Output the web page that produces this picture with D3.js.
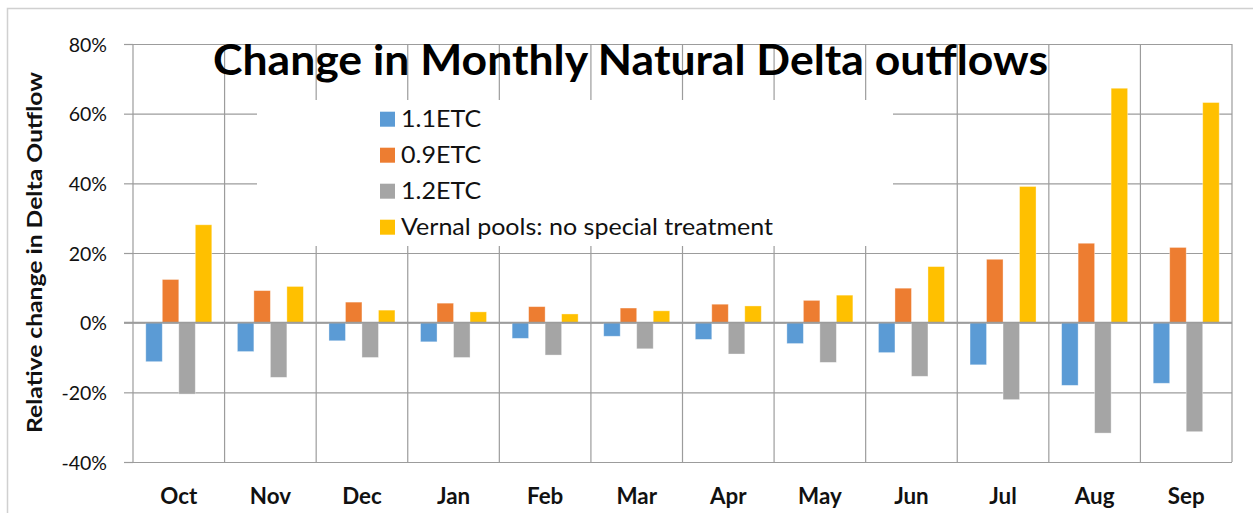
<!DOCTYPE html>
<html>
<head>
<meta charset="utf-8">
<script src="https://cdn.jsdelivr.net/npm/d3@7"></script>
<style>
  html, body { margin: 0; padding: 0; background: #fff; }
  svg { display: block; font-family: Lato, "Open Sans", sans-serif; }
</style>
</head>
<body>
<div id="chart"></div>
<script>
const MONTHS = ['Oct', 'Nov', 'Dec', 'Jan', 'Feb', 'Mar', 'Apr', 'May', 'Jun', 'Jul', 'Aug', 'Sep'];

const SERIES_NAMES = ['1.1ETC', '0.9ETC', '1.2ETC', 'Vernal pools: no special treatment'];

// relative change, percent
const ETC_11 = [-11.2, -8.3, -5.2, -5.5, -4.5, -3.9, -4.8, -6.0, -8.6, -12.1, -18.0, -17.4];
const ETC_09 = [12.4, 9.2, 5.9, 5.6, 4.6, 4.2, 5.3, 6.4, 9.9, 18.2, 22.8, 21.6];
const ETC_12 = [-20.5, -15.7, -10.0, -10.0, -9.3, -7.5, -9.0, -11.4, -15.4, -22.1, -31.7, -31.3];
const VERNAL = [28.1, 10.4, 3.6, 3.1, 2.5, 3.4, 4.8, 7.9, 16.1, 39.1, 67.3, 63.2];

const Y_TICKS = [-40, -20, 0, 20, 40, 60, 80];

const COLORS = ['#5B9BD5', '#ED7D31', '#A5A5A5', '#FFC000'];
const GRID = '#9c9c9c';

function fitWidth(sel, target) {
  // stretch text horizontally to the width seen in the picture
  sel.attr('lengthAdjust', 'spacingAndGlyphs').attr('textLength', target);
}

function render(el) {
  const w = 1253, h = 513;
  const left = 133, right = 1232, top = 44, bottom = 462;

  const svg = d3.select(el).append('svg')
    .attr('width', w).attr('height', h)
    .attr('viewBox', `0 0 ${w} ${h}`);

  // chart area border
  svg.append('rect')
    .attr('x', 7.5).attr('y', 8.5)
    .attr('width', 1300).attr('height', 600)
    .attr('fill', '#fff').attr('stroke', '#d0d0d0').attr('stroke-width', 1.5);

  const x = d3.scaleBand().domain(MONTHS).range([left, right]).padding(0);
  const xs = d3.scaleBand().domain(SERIES_NAMES).range([0, x.bandwidth()])
    .paddingInner(0).paddingOuter(0.775);
  const y = d3.scaleLinear().domain([-40, 80]).range([bottom, top]);

  // horizontal gridlines
  svg.append('g')
    .attr('transform', `translate(${left},0)`)
    .call(d3.axisLeft(y).tickValues(Y_TICKS).tickSize(-(right - left)).tickFormat(''))
    .call(g => g.select('.domain').remove())
    .call(g => g.selectAll('line').attr('stroke', GRID).attr('stroke-width', 1.2));

  // vertical gridlines at category boundaries
  const bounds = MONTHS.map(m => x(m)).concat([x.range()[1]]);
  svg.append('g').selectAll('line')
    .data(bounds)
    .join('line')
    .attr('x1', d => d).attr('x2', d => d)
    .attr('y1', top).attr('y2', bottom)
    .attr('stroke', GRID).attr('stroke-width', 1.2);

  // y tick labels with outward ticks
  const yAxis = svg.append('g')
    .attr('transform', `translate(${left},0)`)
    .call(d3.axisLeft(y).tickValues(Y_TICKS).tickSize(9).tickPadding(17).tickFormat(d => d + '%'))
    .call(g => g.select('.domain').remove());
  yAxis.selectAll('line').attr('stroke', GRID).attr('stroke-width', 1.2);
  yAxis.selectAll('text')
    .attr('font-size', '19.5px').attr('fill', '#111').attr('font-family', 'Lato, sans-serif')
    .attr('dy', '0.36em');
  const tickStretch = 45.6 / yAxis.select('text').node().getComputedTextLength();
  yAxis.selectAll('text').each(function () {
    fitWidth(d3.select(this), this.getComputedTextLength() * tickStretch);
  });

  // legend box (white, hides grid behind it)
  svg.append('rect')
    .attr('x', 257).attr('y', 100)
    .attr('width', 636).attr('height', 146)
    .attr('fill', '#fff');

  const leg = svg.append('g').selectAll('g')
    .data(SERIES_NAMES)
    .join('g')
    .attr('transform', (d, i) => `translate(380,${111.7 + i * 36})`);
  leg.append('rect')
    .attr('width', 15).attr('height', 15)
    .attr('fill', (d, i) => COLORS[i]);
  const legText = leg.append('text')
    .attr('x', 21).attr('y', 15.5)
    .attr('font-size', '22.5px').attr('fill', '#111')
    .text(d => d);
  const legStretch = 372 / legText.nodes()[3].getComputedTextLength();
  legText.each(function () {
    fitWidth(d3.select(this), this.getComputedTextLength() * legStretch);
  });

  // bars
  const series = [ETC_11, ETC_09, ETC_12, VERNAL];
  series.forEach((vals, si) => {
    svg.append('g').selectAll('rect')
      .data(vals)
      .join('rect')
      .attr('x', (d, i) => x(MONTHS[i]) + xs(SERIES_NAMES[si]))
      .attr('width', xs.bandwidth())
      .attr('y', d => y(Math.max(0, d)))
      .attr('height', d => Math.abs(y(d) - y(0)))
      .attr('fill', COLORS[si])
      .attr('stroke', '#fff').attr('stroke-opacity', 0.45).attr('stroke-width', 0.8);
  });

  // zero line
  svg.append('line')
    .attr('x1', left - 9).attr('x2', right)
    .attr('y1', y(0)).attr('y2', y(0))
    .attr('stroke', GRID).attr('stroke-width', 1.8);

  // x axis labels
  const xAxis = svg.append('g')
    .attr('transform', `translate(0,${bottom})`)
    .call(d3.axisBottom(x).tickSize(0).tickPadding(0))
    .call(g => g.select('.domain').remove());
  xAxis.selectAll('text')
    .attr('y', 42).attr('dy', 0)
    .attr('font-size', '23px').attr('font-weight', 'bold')
    .attr('fill', '#111').attr('font-family', 'Lato, sans-serif');
  const xStretch = 37 / xAxis.select('text').node().getComputedTextLength();
  xAxis.selectAll('text').each(function () {
    fitWidth(d3.select(this), this.getComputedTextLength() * xStretch);
  });

  // y axis title
  svg.append('text')
    .attr('transform', 'translate(42,433) rotate(-90)')
    .attr('font-size', '20px').attr('font-weight', 'bold').attr('fill', '#111')
    .text('Relative change in Delta Outflow')
    .call(s => fitWidth(s, 361));

  // chart title
  svg.append('text')
    .attr('x', 213).attr('y', 75)
    .attr('font-size', '42px').attr('font-weight', 'bold').attr('fill', '#000')
    .text('Change in Monthly Natural Delta outflows')
    .call(s => fitWidth(s, 835));
}

render(document.getElementById('chart'));
</script>
</body>
</html>
